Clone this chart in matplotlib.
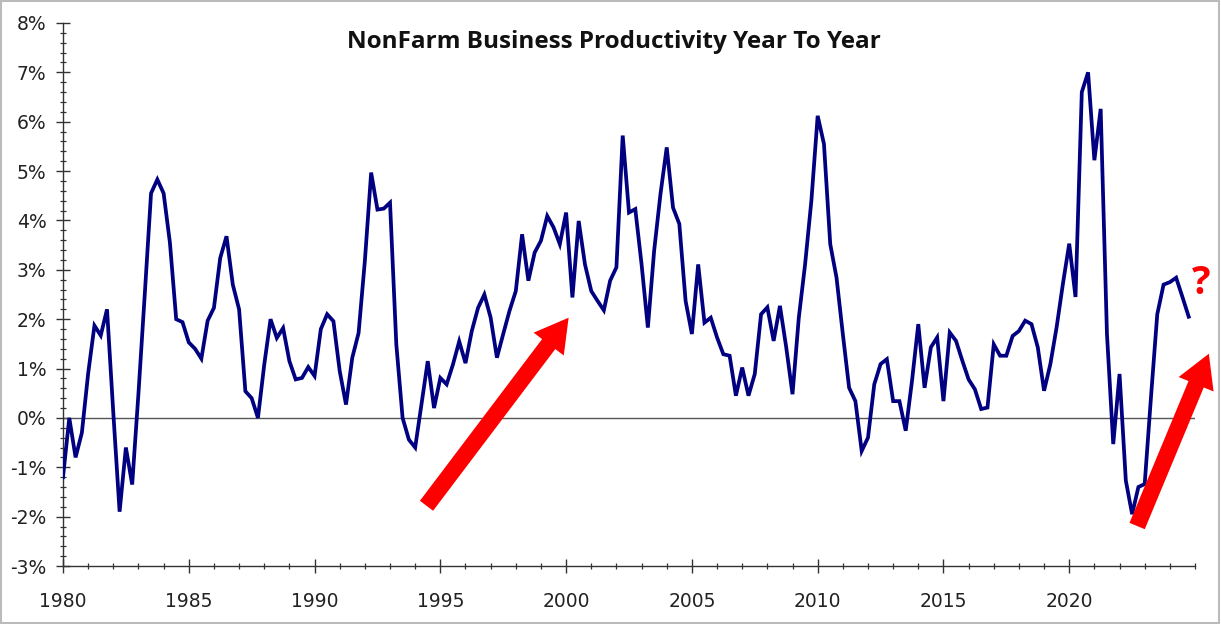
import numpy as np
import matplotlib
matplotlib.use("Agg")
import matplotlib.pyplot as plt
from matplotlib.ticker import MultipleLocator

# Quarterly year-over-year nonfarm business productivity (%), 1980Q1 .. 2024Q4
productivity = [
    -1.20, 0.00, -0.80, -0.30,   # 1980
    0.90, 1.87, 1.67, 2.20,      # 1981
    0.10, -1.90, -0.60, -1.35,   # 1982
    0.50, 2.50, 4.55, 4.83,      # 1983
    4.55, 3.55, 2.00, 1.94,      # 1984
    1.53, 1.40, 1.20, 1.97,      # 1985
    2.23, 3.24, 3.68, 2.70,      # 1986
    2.20, 0.54, 0.40, 0.00,      # 1987
    1.08, 2.00, 1.62, 1.82,      # 1988
    1.15, 0.78, 0.81, 1.03,      # 1989
    0.85, 1.80, 2.10, 1.96,      # 1990
    0.95, 0.27, 1.22, 1.72,      # 1991
    3.18, 4.97, 4.22, 4.24,      # 1992
    4.36, 1.49, 0.00, -0.44,     # 1993
    -0.60, 0.27, 1.15, 0.20,     # 1994
    0.81, 0.68, 1.08, 1.55,      # 1995
    1.11, 1.76, 2.23, 2.50,      # 1996
    2.03, 1.22, 1.70, 2.17,      # 1997
    2.57, 3.72, 2.78, 3.35,      # 1998
    3.59, 4.09, 3.86, 3.52,      # 1999
    4.16, 2.44, 3.99, 3.11,      # 2000
    2.57, 2.37, 2.18, 2.78,      # 2001
    3.05, 5.72, 4.16, 4.23,      # 2002
    3.11, 1.83, 3.39, 4.53,      # 2003
    5.48, 4.26, 3.93, 2.37,      # 2004
    1.70, 3.11, 1.93, 2.03,      # 2005
    1.63, 1.29, 1.26, 0.45,      # 2006
    1.02, 0.45, 0.89, 2.10,      # 2007
    2.24, 1.56, 2.27, 1.43,      # 2008
    0.48, 2.03, 3.11, 4.40,      # 2009
    6.12, 5.55, 3.52, 2.84,      # 2010
    1.70, 0.61, 0.34, -0.67,     # 2011
    -0.40, 0.68, 1.09, 1.19,     # 2012
    0.34, 0.34, -0.26, 0.75,     # 2013
    1.90, 0.61, 1.43, 1.63,      # 2014
    0.34, 1.73, 1.56, 1.16,      # 2015
    0.78, 0.58, 0.18, 0.21,      # 2016
    1.49, 1.26, 1.26, 1.66,      # 2017
    1.76, 1.97, 1.90, 1.43,      # 2018
    0.55, 1.09, 1.84, 2.72,      # 2019
    3.53, 2.45, 6.60, 7.00,      # 2020
    5.22, 6.26, 1.70, -0.53,     # 2021
    0.89, -1.27, -1.95, -1.40,   # 2022
    -1.34, 0.42, 2.10, 2.70,     # 2023
    2.75, 2.84, 2.45, 2.05,      # 2024
]
start_year = 1980
x_ticks = [1980, 1985, 1990, 1995, 2000, 2005, 2010, 2015, 2020]
x_tick_labels = ["1980", "1985", "1990", "1995", "2000", "2005", "2010", "2015", "2020"]
y_ticks = [-3, -2, -1, 0, 1, 2, 3, 4, 5, 6, 7, 8]
y_tick_labels = ["-3%", "-2%", "-1%", "0%", "1%", "2%", "3%", "4%", "5%", "6%", "7%", "8%"]
title = "NonFarm Business Productivity Year To Year"

# arrows (tail -> head) in data units
arrow1 = ((1994.45, -1.78), (2000.1, 2.03))
arrow2 = ((2022.7, -2.19), (2025.55, 1.30))

dates = start_year + np.arange(len(productivity)) / 4.0

fig = plt.figure(figsize=(12.21, 6.24), dpi=100)
fig.patch.set_facecolor("white")
ax = fig.add_axes([63/1221, 1 - 566/624, (1195-63)/1221, (566-23)/624])
ax.set_facecolor("white")

ax.plot(dates, productivity, color="#000080", lw=2.7, solid_joinstyle="miter", zorder=3)
ax.axhline(0, color="#555555", lw=1.0, zorder=2)

ax.set_xlim(1980, 2025)
ax.set_ylim(-3, 8)

for s in ["top", "right"]:
    ax.spines[s].set_visible(False)
for s in ["left", "bottom"]:
    ax.spines[s].set_color("#333333")
    ax.spines[s].set_linewidth(1.0)

ax.set_xticks(x_ticks)
ax.set_xticklabels(x_tick_labels)
ax.xaxis.set_minor_locator(MultipleLocator(1))
ax.set_yticks(y_ticks)
ax.set_yticklabels(y_tick_labels)
ax.yaxis.set_minor_locator(MultipleLocator(0.2))

ax.tick_params(axis="both", which="major", direction="inout", length=10, width=1.0,
               color="#333333", labelsize=13.5, labelcolor="#222222")
ax.tick_params(axis="both", which="minor", direction="inout", length=5, width=0.9,
               color="#333333")
ax.tick_params(axis="x", which="major", pad=14)
ax.tick_params(axis="y", which="major", pad=7)

fig.text(614/1221, 1 - 42/624, title, ha="center", va="center",
         fontsize=17.5, fontweight="bold", family=["Open Sans", "DejaVu Sans"], color="#111111")

for (tail, head) in (arrow1, arrow2):
    ax.annotate("", xy=head, xytext=tail, xycoords="data", textcoords="data",
                annotation_clip=False,
                arrowprops=dict(arrowstyle="simple,head_width=1.6,head_length=1.4,tail_width=0.7",
                                color="#ff0000", lw=0, shrinkA=0, shrinkB=0,
                                mutation_scale=17),
                zorder=4)

ax.text(2025.25, 2.72, "?", color="#ff0000", fontsize=28, fontweight="bold",
        ha="center", va="center", clip_on=False, family=["Open Sans", "DejaVu Sans"])

# light gray outer frame
fig.patches.append(plt.Rectangle((0.001, 0.002), 0.997, 0.996, transform=fig.transFigure,
                                 fill=False, edgecolor="#bbbbbb", lw=1.5))

fig.savefig("out.png", dpi=100, facecolor="white")
